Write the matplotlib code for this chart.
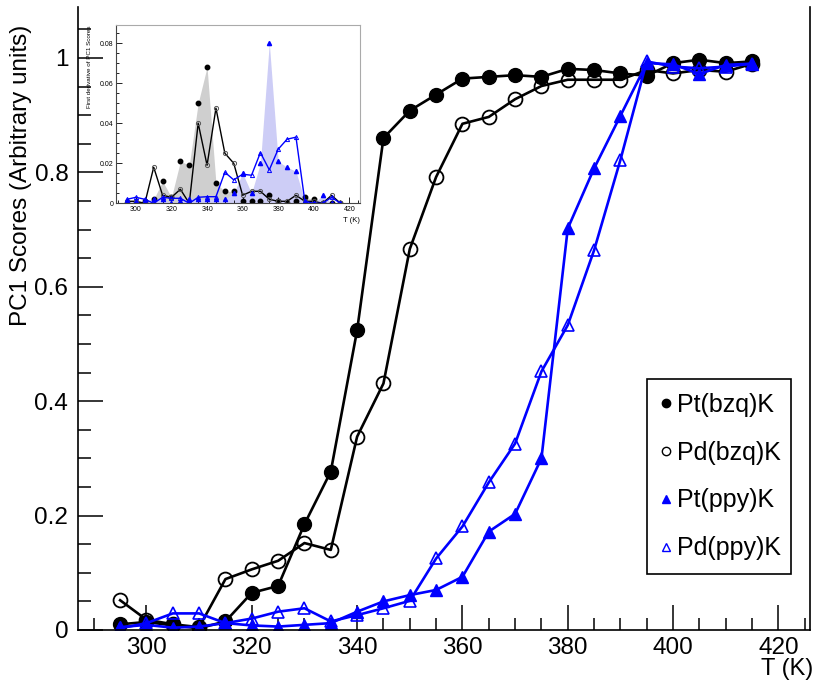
import matplotlib
matplotlib.use("Agg")
import matplotlib.pyplot as plt
from matplotlib.lines import Line2D
from matplotlib.ticker import MultipleLocator, FuncFormatter

plt.rcParams['font.family'] = ['Liberation Sans', 'DejaVu Sans']

# Temperatures (K)
temp = [295, 300, 305, 310, 315, 320, 325, 330, 335, 340, 345, 350, 355,
        360, 365, 370, 375, 380, 385, 390, 395, 400, 405, 410, 415]

# PC1 scores
pt_bzq = [0.010, 0.014, 0.008, 0.003, 0.015, 0.065, 0.077, 0.185, 0.277, 0.524,
          0.860, 0.908, 0.936, 0.964, 0.967, 0.970, 0.967, 0.981, 0.979, 0.973,
          0.969, 0.991, 0.997, 0.991, 0.994]
pd_bzq = [0.052, 0.018, 0.010, 0.005, 0.089, 0.106, 0.121, 0.152, 0.140, 0.338,
          0.431, 0.666, 0.792, 0.885, 0.897, 0.928, 0.951, 0.962, 0.962, 0.962,
          0.979, 0.973, 0.979, 0.976, 0.990]
pt_ppy = [0.005, 0.009, 0.004, 0.006, 0.012, 0.008, 0.006, 0.009, 0.012, 0.032,
          0.050, 0.061, 0.070, 0.093, 0.172, 0.203, 0.300, 0.702, 0.807, 0.899,
          0.991, 0.989, 0.972, 0.988, 0.990]
pd_ppy = [0.003, 0.012, 0.029, 0.029, 0.012, 0.020, 0.032, 0.038, 0.015, 0.026,
          0.038, 0.051, 0.125, 0.181, 0.258, 0.326, 0.452, 0.533, 0.664, 0.822,
          0.994, 0.985, 0.982, 0.985, 0.990]

# First derivative of the PC1 scores
d_pt_bzq = [0.000, 0.000, 0.001, 0.002, 0.011, 0.003, 0.021, 0.019, 0.050, 0.068,
            0.010, 0.006, 0.006, 0.001, 0.001, 0.001, 0.004, 0.001, 0.000, 0.001,
            0.003, 0.002, 0.000, 0.000, 0.000]
d_pd_bzq = [0.001, 0.001, 0.000, 0.018, 0.004, 0.003, 0.007, 0.000, 0.040, 0.019,
            0.0475, 0.025, 0.020, 0.004, 0.006, 0.006, 0.002, 0.001, 0.001, 0.004,
            0.001, 0.001, 0.000, 0.004, 0.000]
d_pt_ppy = [0.001, 0.001, 0.001, 0.002, 0.002, 0.000, 0.001, 0.002, 0.002, 0.002,
            0.002, 0.002, 0.005, 0.015, 0.005, 0.020, 0.080, 0.021, 0.018, 0.016,
            0.001, 0.000, 0.004, 0.000, 0.000]
d_pd_ppy = [0.002, 0.003, 0.002, 0.000, 0.003, 0.0025, 0.0025, 0.000, 0.003, 0.0033,
            0.0033, 0.0155, 0.0117, 0.0145, 0.014, 0.0253, 0.0167, 0.027, 0.032, 0.033,
            0.001, 0.000, 0.000, 0.003, 0.000]

labels = ['Pt(bzq)K', 'Pd(bzq)K', 'Pt(ppy)K', 'Pd(ppy)K']
blue = '#0000ff'

fig = plt.figure(figsize=(8.15, 6.82), dpi=100)
ax = fig.add_axes([0.0957, 0.07625, 0.8982, 0.9142])

lw = 1.9
ax.plot(temp, pt_bzq, '-o', color='black', lw=lw, ms=10, mfc='black', mec='black')
ax.plot(temp, pd_bzq, '-o', color='black', lw=lw, ms=10, mfc='none', mec='black', mew=1.3)
ax.plot(temp, pt_ppy, '-^', color=blue, lw=lw, ms=8, mfc=blue, mec=blue)
ax.plot(temp, pd_ppy, '-^', color=blue, lw=lw, ms=9, mfc='none', mec=blue, mew=1.2)

ax.set_xlim(287.0, 426)
ax.set_ylim(0, 1.09)
ax.xaxis.set_major_locator(MultipleLocator(20))
ax.xaxis.set_minor_locator(MultipleLocator(5))
ax.yaxis.set_major_locator(MultipleLocator(0.2))
ax.yaxis.set_minor_locator(MultipleLocator(0.05))
ax.yaxis.set_major_formatter(FuncFormatter(lambda v, p: '0' if abs(v) < 1e-9 else ('1' if abs(v - 1) < 1e-9 else f'{v:.1f}')))
ax.tick_params(which='both', direction='in', labelsize=17.5, width=1.1, color='black')
ax.tick_params(which='major', length=18)
ax.tick_params(which='minor', length=9)
ax.tick_params(axis='x', pad=5)
ax.tick_params(axis='y', pad=7)
ax.spines['top'].set_visible(False)
for s in ['left', 'bottom', 'right']:
    ax.spines[s].set_linewidth(1.2)

fig.text(0.026, 1 - 25 / 682, 'PC1 Scores (Arbitrary units)', rotation=90,
         ha='center', va='top', fontsize=17.5)
fig.text(813 / 815, 1.5 / 682, 'T (K)', ha='right', va='bottom', fontsize=17)

handles = [
    Line2D([], [], ls='none', marker='o', ms=6, mfc='black', mec='black'),
    Line2D([], [], ls='none', marker='o', ms=6, mfc='none', mec='black', mew=1.0),
    Line2D([], [], ls='none', marker='^', ms=6, mfc=blue, mec=blue),
    Line2D([], [], ls='none', marker='^', ms=6, mfc='none', mec=blue, mew=1.0),
]
leg = fig.legend(handles, labels, loc='lower left',
                 bbox_to_anchor=(647 / 815, 1 - 574 / 682, 144 / 815, 193 / 682),
                 bbox_transform=fig.transFigure, mode='expand', borderaxespad=0,
                 fontsize=18, fancybox=False, edgecolor='black', framealpha=1,
                 handlelength=0.45, handletextpad=0.2, labelspacing=0.95,
                 borderpad=0.55)
leg.get_frame().set_linewidth(1.2)

# inset: first derivative
ins = fig.add_axes([116 / 815, 1 - 203.3 / 682, 244 / 815, 178.3 / 682])
ins.fill_between(temp, d_pt_bzq, color='#cfcfcf', lw=0)
ins.fill_between(temp, d_pt_ppy, color='#cdcdf6', lw=0)
ins.plot(temp, d_pt_bzq, 'o', ls='none', ms=3.2, color='black')
ins.plot(temp, d_pd_bzq, '-o', color='black', lw=1.0, ms=3, mfc='none', mec='#555555', mew=0.7)
ins.plot(temp, d_pt_ppy, '^', ls='none', ms=3, color=blue)
ins.plot(temp, d_pd_ppy, '-^', color=blue, lw=1.0, ms=3, mfc='none', mec=blue, mew=0.7)
ins.set_xlim(288.8, 426)
ins.set_ylim(0, 0.089)
ins.xaxis.set_major_locator(MultipleLocator(20))
ins.xaxis.set_minor_locator(MultipleLocator(5))
ins.yaxis.set_major_locator(MultipleLocator(0.02))
ins.yaxis.set_minor_locator(MultipleLocator(0.005))
ins.yaxis.set_major_formatter(FuncFormatter(lambda v, p: '0' if abs(v) < 1e-9 else f'{v:.2f}'))
ins.tick_params(which='both', direction='in', labelsize=5, width=0.6, pad=2)
ins.tick_params(which='major', length=4)
ins.tick_params(which='minor', length=2)
ins.set_ylabel('First derivative of PC1 Scores', fontsize=4.5, labelpad=2)
ins.yaxis.set_label_coords(-0.1, 1.0)
ins.yaxis.label.set_ha('right')
ins.text(1.0, -0.075, 'T (K)', transform=ins.transAxes, ha='right', va='top', fontsize=5.5)
for s in ['top', 'right']:
    ins.spines[s].set_color('#aaaaaa')
for s in ['left', 'bottom']:
    ins.spines[s].set_color('#444444')
for s in ins.spines.values():
    s.set_linewidth(0.8)

fig.savefig('out.png', dpi=100)
